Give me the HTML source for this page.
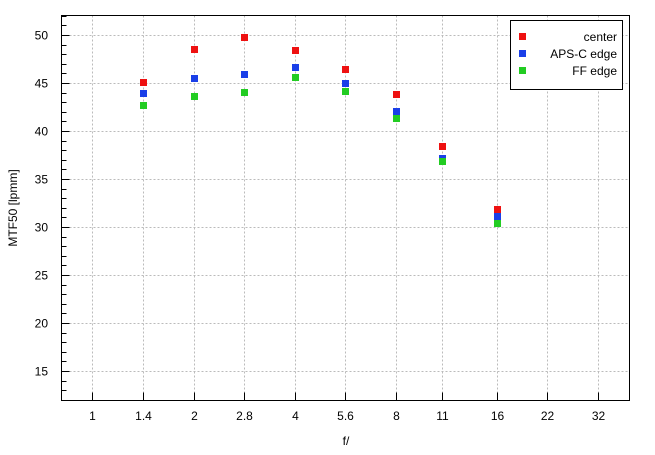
<!DOCTYPE html>
<html><head><meta charset="utf-8"><style>body{margin:0;background:#fff}svg{display:block}text{font-family:"Liberation Sans",sans-serif;font-size:12px;fill:#000}</style></head>
<body>
<svg id="s" width="655" height="455" xmlns="http://www.w3.org/2000/svg"></svg>
<script>
const s=document.getElementById('s');let h='';
const Y=v=>35+(50-v)*9.6;
const fs=[1,1.4,2,2.8,4,5.6,8,11,16,22,32];
const P=[92,143,194,244,295,345,396,442,497,547,598];
function xx(f){return P[fs.indexOf(f)];}
const L=61.5,R=629.5,T=15.5,B=400.5;
fs.forEach(f=>{const x=xx(f)+0.5;h+=`<line x1="${x}" y1="${T}" x2="${x}" y2="${B}" stroke="#bbb" stroke-dasharray="2,2"/>`;h+=`<line x1="${x}" y1="${B}" x2="${x}" y2="${B-8}" stroke="#000"/>`;h+=`<text x="${x}" y="420" text-anchor="middle">${f}</text>`;});
for(let v=15;v<=50;v+=5){const y=Math.round(Y(v))+0.5;h+=`<line x1="${L}" y1="${y}" x2="${R}" y2="${y}" stroke="#bbb" stroke-dasharray="2,2"/>`;h+=`<text x="48" y="${y+4}" text-anchor="end">${v}</text>`;}
for(let v=13;v<=52;v++){const y=Math.round(Y(v))+0.5;const m=v%5==0;h+=`<line x1="${L}" y1="${y}" x2="${L+(m?8:5)}" y2="${y}" stroke="#000"/>`;}
h+=`<rect x="${L}" y="${T}" width="${R-L}" height="${B-T}" fill="none" stroke="#000"/>`;
const st=[1.4,2,2.8,4,5.6,8,11,16];
const D=[["#ee1111",[45.1,48.5,49.8,48.4,46.5,43.9,38.4,31.9]],["#1a3fe8",[44.0,45.5,45.9,46.7,45.0,42.1,37.2,31.1]],["#22cc22",[42.7,43.6,44.1,45.6,44.2,41.4,36.9,30.4]]];
D.forEach(([c,d])=>d.forEach((v,i)=>{h+=`<rect x="${xx(st[i])-3}" y="${Math.round(Y(v))-3}" width="7" height="7" fill="${c}"/>`;}));
h+=`<rect x="510.5" y="20.5" width="112" height="69" fill="#fff" stroke="#000"/>`;
[["center",0],["APS-C edge",1],["FF edge",2]].forEach(([t,i])=>{const y=38+i*17;h+=`<rect x="519" y="${y-5}" width="7" height="7" fill="${D[i][0]}"/><text x="617" y="${y+3}" text-anchor="end">${t}</text>`;});
h+=`<text x="346" y="445" text-anchor="middle">f/</text>`;
h+=`<text transform="translate(17,208) rotate(-90)" text-anchor="middle">MTF50 [lpmm]</text>`;
s.innerHTML=h;
</script>
</body></html>
